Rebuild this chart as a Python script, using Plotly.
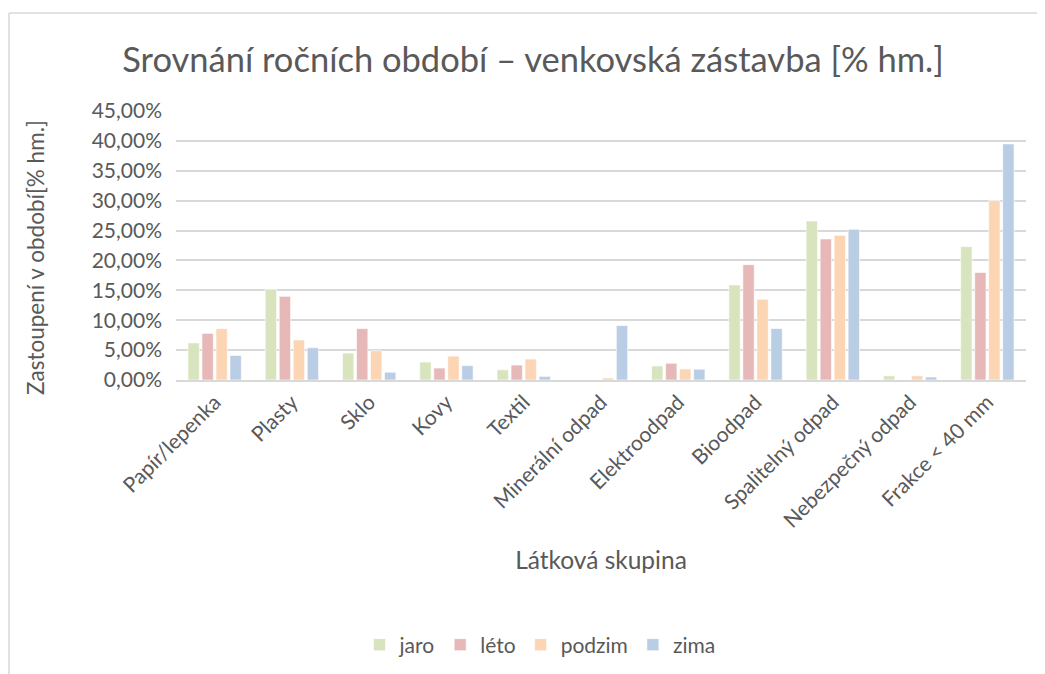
import plotly.graph_objects as go

categories = ["Papír/lepenka", "Plasty", "Sklo", "Kovy", "Textil", "Minerální odpad",
              "Elektroodpad", "Bioodpad", "Spalitelný odpad", "Nebezpečný odpad", "Frakce < 40 mm"]
jaro = [6.2, 15.2, 4.5, 3.0, 1.7, 0.0, 2.35, 15.9, 26.6, 0.7, 22.3]
leto = [7.8, 14.0, 8.6, 2.0, 2.5, 0.0, 2.8, 19.3, 23.6, 0.0, 18.0]
podzim = [8.6, 6.7, 4.9, 4.0, 3.5, 0.35, 1.85, 13.5, 24.2, 0.7, 30.0]
zima = [4.1, 5.4, 1.3, 2.4, 0.6, 9.1, 1.8, 8.6, 25.2, 0.5, 39.5]

series = [("jaro", jaro, "#d7e4bd"), ("léto", leto, "#e6b9b8"),
          ("podzim", podzim, "#fcd5b5"), ("zima", zima, "#b9cde5")]

FONT = "Lato, Open Sans, sans-serif"
W, H = 1037, 666
fig = go.Figure()
for name, vals, col in series:
    fig.add_trace(go.Bar(
        x=categories, y=[v / 100 for v in vals], name=name,
        marker=dict(color=col, line=dict(color="rgba(255,255,255,0.6)", width=1)),
    ))

fig.update_layout(
    width=W, height=H,
    margin=dict(l=168, r=19, t=103, b=294),
    paper_bgcolor="white", plot_bgcolor="white",
    barmode="group", bargap=0.275, bargroupgap=0.19,
    separators=", ",
    font=dict(family=FONT, color="#595959", size=21),
    title=dict(text="Srovnání ročních období – venkovská zástavba [% hm.]",
               x=525 / W, xanchor="center", xref="container",
               y=1 - 52 / H, yanchor="middle", yref="container",
               font=dict(size=34.5, color="#595959", family=FONT)),
    xaxis=dict(
        automargin=False,
        tickangle=-45, showgrid=False, showline=True, linecolor="#d9d9d9", linewidth=1.5,
        ticks="", tickfont=dict(size=21, color="#595959"),
        title=dict(text="Látková skupina", font=dict(size=24.5, color="#595959"), standoff=21),
    ),
    yaxis=dict(
        automargin=False,
        range=[0, 0.45], dtick=0.05, tickformat=".2%",
        showgrid=True, gridcolor="#d9d9d9", gridwidth=1.5, zeroline=False,
        tickfont=dict(size=21, color="#595959"), ticks="", ticklabelstandoff=13,
    ),
    annotations=[
        dict(text="Zastoupení v období[% hm.]", textangle=-90, showarrow=False,
             xref="paper", yref="paper", x=(35 - 176) / 850, y=(380 - 258) / 269,
             xanchor="center", yanchor="middle",
             font=dict(size=22.5, color="#595959", family=FONT)),
    ],
    legend=dict(orientation="h", x=532 / W, xanchor="center", xref="container",
                y=1 - 637 / H, yanchor="middle", yref="container",
                font=dict(size=21, color="#595959"), itemwidth=30, traceorder="normal"),
    shapes=[
        dict(type="line", xref="paper", yref="paper", x0=(9 - 176) / 850, x1=(1045 - 176) / 850,
             y0=(380 - 13) / 269, y1=(380 - 13) / 269, line=dict(color="#d9d9d9", width=1.5)),
        dict(type="line", xref="paper", yref="paper", x0=(9 - 176) / 850, x1=(9 - 176) / 850,
             y0=(380 - 13) / 269, y1=(380 - 674) / 269, line=dict(color="#d9d9d9", width=1.5)),
    ],
)
fig.write_html("out.html")
